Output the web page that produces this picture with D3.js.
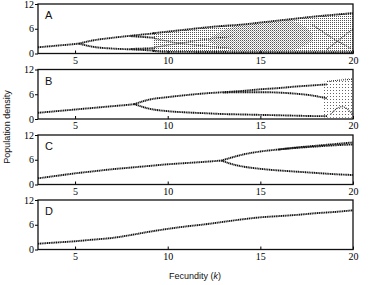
<!DOCTYPE html>
<html lang="en">
<head>
<meta charset="utf-8">
<title>Fecundity bifurcation</title>
<script src="https://cdn.jsdelivr.net/npm/d3@7"></script>
<style>
  body { margin: 0; background: #fff; }
  .lbl { font-family: "Liberation Sans", Arial, sans-serif; fill: #111; }
</style>
</head>
<body>
<script>
// x ticks / y ticks
var kTicks = [5, 10, 15, 20];
var yTicks = [0, 6, 12];

// panel A
var aStemK = [3, 4, 5, 5.2],            aStemV = [1.5, 1.9, 2.3, 2.4];
var aUpK   = [5.2, 6, 7, 8, 9.3],       aUpV   = [2.4, 3.2, 3.8, 4.3, 4.9];
var aLoK   = [5.2, 6, 7, 8, 9.3],       aLoV   = [2.4, 1.6, 1.2, 1.0, 0.7];
var aUp2K  = [8, 8.7, 9.3],             aUp2V  = [4.2, 4.0, 3.8];
var aLo2K  = [8, 8.7, 9.3],             aLo2V  = [1.1, 1.2, 1.3];
var aBandK   = [9.2, 10, 11, 12, 13, 14, 15, 16, 17, 18, 19, 20];
var aBandTop = [4.9, 5.3, 5.8, 6.3, 6.7, 7.0, 7.5, 8.0, 8.5, 9.0, 9.4, 9.8];
var aBandBot = [0.6, 0.4, 0.4, 0.35, 0.35, 0.3, 0.3, 0.3, 0.3, 0.3, 0.3, 0.3];
var aDenseK   = [12.2, 13, 14, 15, 16, 17, 17.8];
var aDenseTop = [3.5, 6.0, 6.8, 7.3, 7.8, 8.2, 5.0];
var aDenseBot = [3.0, 1.0, 0.6, 0.5, 0.5, 0.8, 3.0];
var aIn1K = [9.3, 10.5, 12, 13.5],   aIn1V = [3.6, 2.6, 1.8, 1.2];
var aIn2K = [9.3, 10.5, 12, 13.5],   aIn2V = [1.5, 2.4, 3.4, 4.2];
var aIn3K = [17.8, 18.8, 19.9],      aIn3V = [7.0, 4.0, 1.2];
var aIn4K = [18.6, 19.3, 20],        aIn4V = [1.0, 3.5, 6.0];

// panel B
var bStemK = [3, 4, 5, 6, 7, 8, 8.2],  bStemV = [1.5, 1.9, 2.3, 2.7, 3.1, 3.5, 3.6];
var bUpK   = [8.2, 9, 10, 11, 12, 13, 14, 15, 16, 17, 18, 18.6];
var bUpV   = [3.6, 4.7, 5.3, 5.8, 6.2, 6.5, 6.8, 7.2, 7.5, 7.9, 8.2, 8.4];
var bUp2K  = [13, 14, 15, 16, 17, 17.8, 18.6];
var bUp2V  = [6.4, 6.5, 6.5, 6.4, 6.1, 5.7, 5.0];
var bLoK   = [8.2, 9, 10, 11, 12, 13, 14, 15, 16, 17, 18, 18.6];
var bLoV   = [3.6, 2.5, 1.9, 1.6, 1.4, 1.2, 1.1, 1.0, 0.9, 0.8, 0.7, 0.7];
var bBandK   = [18.4, 19, 19.5, 20];
var bBandTop = [9.0, 9.6, 9.8, 9.9];
var bBandBot = [0.4, 0.3, 0.3, 0.3];
var bIn1K = [18.6, 19.2, 20], bIn1V = [9.1, 9.4, 9.6];
var bIn2K = [18.8, 19.4, 20], bIn2V = [1.2, 3.0, 1.0];

// panel C
var cStemK = [3, 4, 5, 6, 7, 8, 9, 10, 11, 12, 12.9];
var cStemV = [1.5, 2.1, 2.7, 3.2, 3.7, 4.1, 4.5, 4.9, 5.2, 5.5, 5.8];
var cUpK   = [12.9, 13.5, 14, 15, 16, 17, 18, 19, 20];
var cUpV   = [5.8, 6.6, 7.2, 8.0, 8.5, 9.0, 9.4, 9.8, 10.2];
var cUp2K  = [16, 17, 18, 19, 20],      cUp2V = [8.5, 8.9, 9.2, 9.5, 9.7];
var cLoK   = [12.9, 13.5, 14, 15, 16, 17, 18, 19, 20];
var cLoV   = [5.8, 4.9, 4.4, 3.8, 3.4, 3.1, 2.8, 2.5, 2.3];

// panel D
var dK = [3, 4, 5, 6, 7, 8, 9, 10, 11, 12, 13, 14, 15, 16, 17, 18, 19, 20];
var dV = [1.4, 1.7, 2.0, 2.4, 2.8, 3.5, 4.3, 5.0, 5.6, 6.1, 6.7, 7.3, 7.8, 8.1, 8.4, 8.8, 9.1, 9.5];

function pts(k, v) { return k.map(function (d, i) { return [d, v[i]]; }); }
function band(k, t, b) { return k.map(function (d, i) { return [d, t[i], b[i]]; }); }

var panels = [
  { name: "A", top: 4,
    lines: [pts(aStemK, aStemV), pts(aUpK, aUpV), pts(aLoK, aLoV), pts(aUp2K, aUp2V), pts(aLo2K, aLo2V),
            pts(aBandK, aBandTop), pts(aBandK, aBandBot)],
    thin: [pts(aIn1K, aIn1V), pts(aIn2K, aIn2V), pts(aIn3K, aIn3V), pts(aIn4K, aIn4V)],
    bands: [[band(aBandK, aBandTop, aBandBot), "url(#light)"],
            [band(aDenseK, aDenseTop, aDenseBot), "url(#light2)"]] },
  { name: "B", top: 69.5,
    lines: [pts(bStemK, bStemV), pts(bUpK, bUpV), pts(bUp2K, bUp2V), pts(bLoK, bLoV)],
    thin: [pts(bIn1K, bIn1V), pts(bIn2K, bIn2V)],
    bands: [[band(bBandK, bBandTop, bBandBot), "url(#sparse)"]] },
  { name: "C", top: 135,
    lines: [pts(cStemK, cStemV), pts(cUpK, cUpV), pts(cUp2K, cUp2V), pts(cLoK, cLoV)],
    thin: [], bands: [] },
  { name: "D", top: 200,
    lines: [pts(dK, dV)], thin: [], bands: [] }
];

var width = 371, height = 285;
var left = 38, right = 353, ph = 49.5;

var svg = d3.select("body").append("svg")
  .attr("width", width).attr("height", height);

var defs = svg.append("defs");
function dotPattern(id, size, dots) {
  var p = defs.append("pattern").attr("id", id)
    .attr("width", size).attr("height", size).attr("patternUnits", "userSpaceOnUse");
  dots.forEach(function (d) {
    p.append("rect").attr("x", d[0]).attr("y", d[1]).attr("width", 1).attr("height", 1).attr("fill", d[2]);
  });
}
dotPattern("light", 2, [[0, 0, "#555"]]);
dotPattern("light2", 2, [[1, 1, "#aaa"]]);
dotPattern("sparse", 3, [[0, 0, "#666"]]);

var x = d3.scaleLinear().domain([3, 20]).range([left, right]);

panels.forEach(function (p) {
  var y = d3.scaleLinear().domain([0, 12]).range([p.top + ph, p.top]);
  var g = svg.append("g");

  var line = d3.line().x(function (d) { return x(d[0]); }).y(function (d) { return y(d[1]); })
    .curve(d3.curveMonotoneX);
  var area = d3.area().x(function (d) { return x(d[0]); })
    .y0(function (d) { return y(d[2]); }).y1(function (d) { return y(d[1]); })
    .curve(d3.curveBasis);

  p.bands.forEach(function (b) {
    g.append("path").datum(b[0]).attr("d", area).attr("fill", b[1]);
  });

  p.thin.forEach(function (l) {
    g.append("path").datum(l).attr("d", line)
      .attr("fill", "none").attr("stroke", "#333").attr("stroke-width", 1.1)
      .attr("stroke-dasharray", "1,1");
  });

  p.lines.forEach(function (l) {
    g.append("path").datum(l).attr("d", line)
      .attr("fill", "none").attr("stroke", "#111").attr("stroke-width", 1.9)
      .attr("stroke-dasharray", "1.2,0.6");
  });

  // axes
  g.append("g").attr("transform", "translate(0," + (p.top + ph) + ")")
    .call(d3.axisBottom(x).tickValues(kTicks).tickSize(-3).tickPadding(3))
    .attr("font-family", "'Liberation Serif', 'DejaVu Serif', serif").attr("font-size", 10)
    .call(function (s) { s.select(".domain").remove(); });
  g.append("g").attr("transform", "translate(" + left + ",0)")
    .call(d3.axisLeft(y).tickValues(yTicks).tickSize(3).tickPadding(1))
    .attr("font-family", "'Liberation Serif', 'DejaVu Serif', serif").attr("font-size", 10)
    .call(function (s) { s.select(".domain").remove(); });

  g.append("rect").attr("x", left).attr("y", p.top)
    .attr("width", right - left).attr("height", ph)
    .attr("fill", "none").attr("stroke", "#111").attr("stroke-width", 1.3);

  g.append("text").attr("class", "lbl").attr("x", left + 7).attr("y", p.top + 15)
    .attr("font-size", 11).text(p.name);
});

svg.append("text").attr("class", "lbl")
  .attr("transform", "translate(10,127) rotate(-90)")
  .attr("text-anchor", "middle").attr("font-size", 9)
  .text("Population density");

var xl = svg.append("text").attr("class", "lbl")
  .attr("x", 195).attr("y", 279).attr("text-anchor", "middle").attr("font-size", 9);
xl.append("tspan").text("Fecundity (");
xl.append("tspan").attr("font-style", "italic").text("k");
xl.append("tspan").text(")");
</script>
</body>
</html>
